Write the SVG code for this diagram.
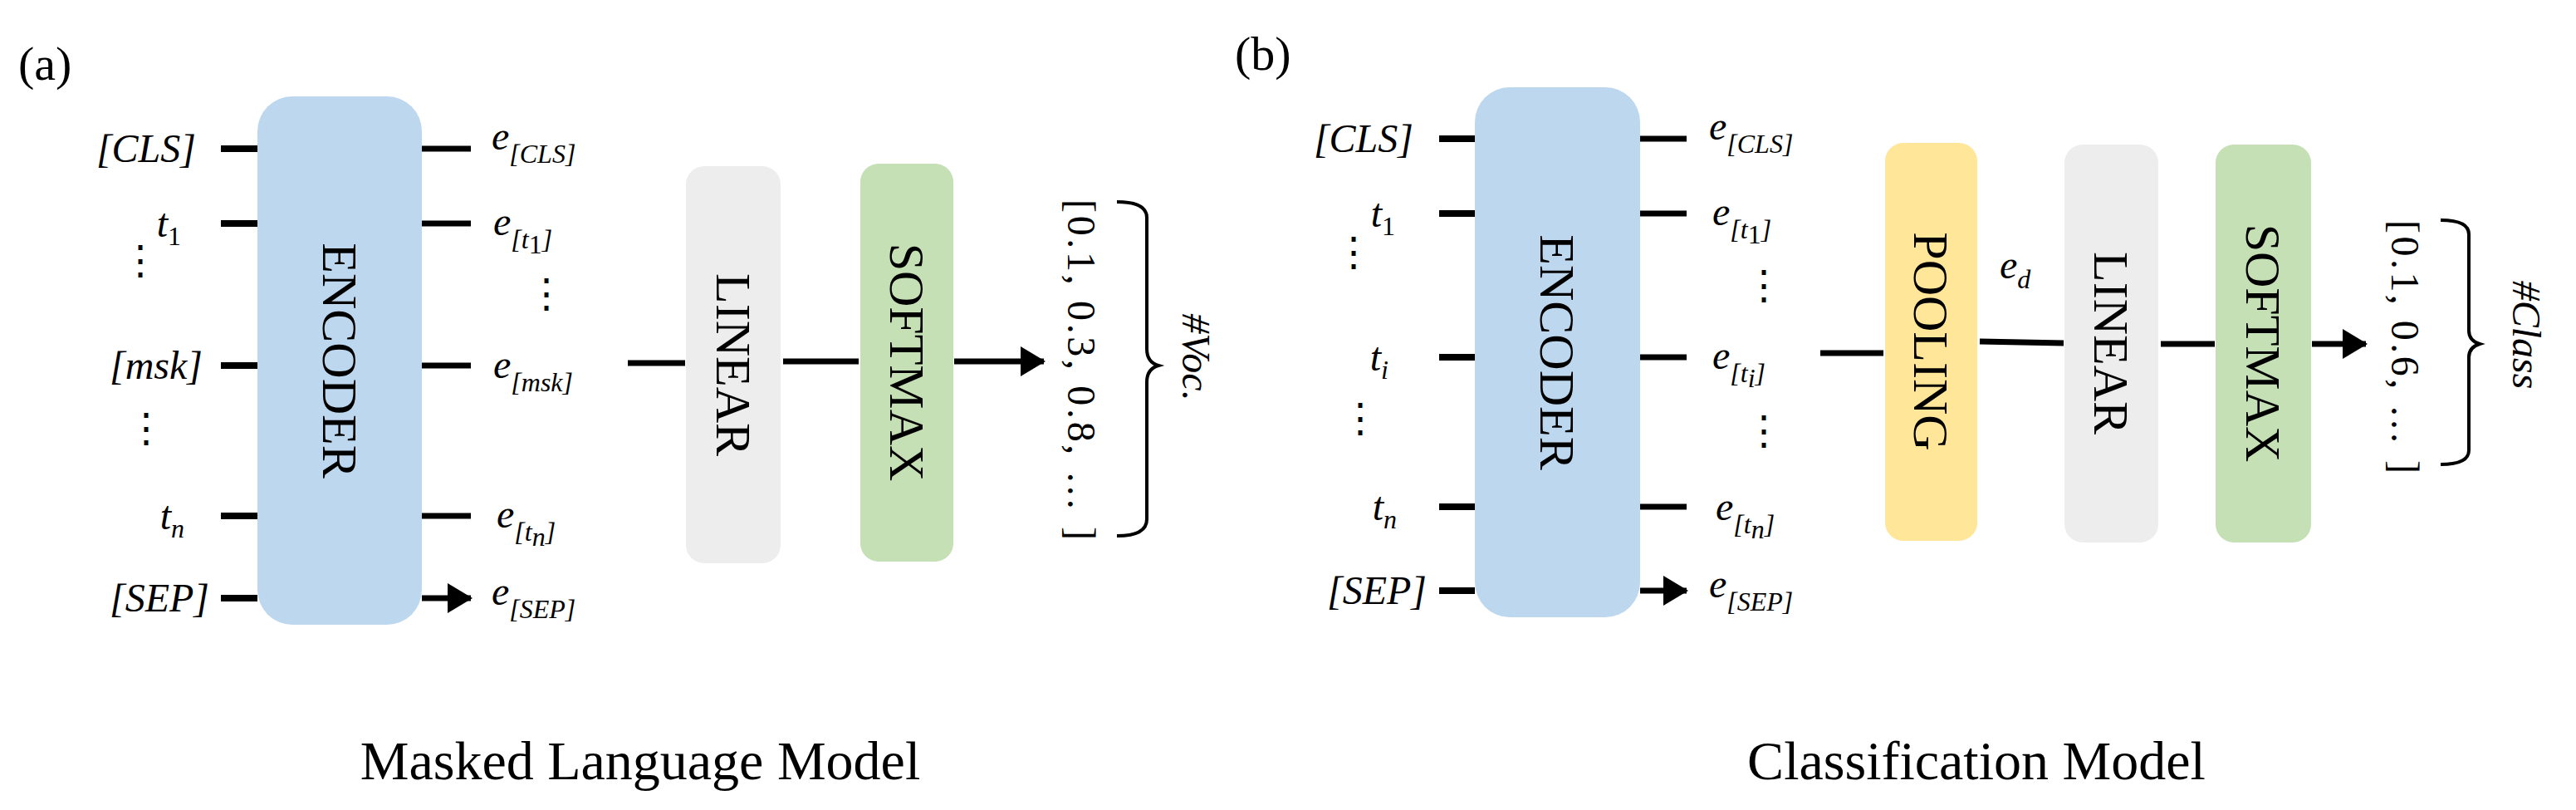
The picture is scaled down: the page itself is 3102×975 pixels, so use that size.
<svg xmlns="http://www.w3.org/2000/svg" width="3102" height="975" viewBox="0 0 3102 975">
<style>
.t{font-family:"Liberation Serif",serif;fill:#000}
.m{font-family:"Liberation Serif",serif;font-style:italic;fill:#000;font-size:48px}
.s{font-size:32px}
.box{font-family:"Liberation Serif",serif;font-size:60px;fill:#000}
.ln{stroke:#000;stroke-width:8;fill:none}
.ar{stroke:#000;stroke-width:7;fill:none;marker-end:url(#ah)}
.br{stroke:#000;stroke-width:4;fill:none}
</style>
<defs>
<marker id="ah" markerUnits="userSpaceOnUse" markerWidth="30" markerHeight="36" refX="28" refY="18" orient="auto"><path d="M0,0 L30,18 L0,36 Z" fill="#000"/></marker>
</defs>
<rect width="3102" height="975" fill="#fff"/>
<text class="t" x="22" y="96" font-size="58">(a)</text>
<text class="t" x="1487" y="84" font-size="58">(b)</text>
<text class="t" x="771" y="938" font-size="66" text-anchor="middle">Masked Language Model</text>
<text class="t" x="2380" y="938" font-size="66" text-anchor="middle">Classification Model</text>

<g id="encoder-a"><rect x="310" y="116" width="198" height="636" rx="42" fill="#bdd7ee"/><text class="box" transform="translate(409,434) rotate(90)" text-anchor="middle" dominant-baseline="central">ENCODER</text></g>
<g id="linear-a"><rect x="826" y="200" width="114" height="478" rx="22" fill="#ededed"/><text class="box" transform="translate(883,439) rotate(90)" text-anchor="middle" dominant-baseline="central">LINEAR</text></g>
<g id="softmax-a"><rect x="1036" y="197" width="112" height="479" rx="22" fill="#c5e0b4"/><text class="box" transform="translate(1092,436) rotate(90)" text-anchor="middle" dominant-baseline="central">SOFTMAX</text></g>

<g id="inputs-a" class="m" text-anchor="end">
<text x="236" y="195">[CLS]</text>
<text x="218" y="285">t<tspan class="s" dy="10" font-style="normal">1</tspan></text>
<text x="193" y="330" font-style="normal">⋮</text>
<text x="244" y="456">[msk]</text>
<text x="200" y="532" font-style="normal">⋮</text>
<text x="222" y="637">t<tspan class="s" dy="10">n</tspan></text>
<text x="252" y="736">[SEP]</text>
</g>
<g id="outputs-a" class="m">
<text x="592" y="180">e<tspan class="s" dy="16">[CLS]</tspan></text>
<text x="594" y="283">e<tspan class="s" dy="16">[t</tspan><tspan class="s" font-size="24" font-style="normal" dy="6">1</tspan><tspan class="s" dy="-6">]</tspan></text>
<text x="634" y="370" font-style="normal">⋮</text>
<text x="594" y="455">e<tspan class="s" dy="16">[msk]</tspan></text>
<text x="598" y="635">e<tspan class="s" dy="16">[t</tspan><tspan class="s" font-size="24" dy="6">n</tspan><tspan class="s" dy="-6">]</tspan></text>
<text x="592" y="728">e<tspan class="s" dy="16">[SEP]</tspan></text>
</g>
<g id="vector-a"><text class="t" font-size="48" transform="translate(1286,240) rotate(90)" textLength="410" lengthAdjust="spacing">[0.1, 0.3, 0.8, … ]</text></g>
<g id="label-voc"><text class="m" transform="translate(1424,430) rotate(90)" text-anchor="middle">#Voc.</text></g>

<g id="encoder-b"><rect x="1776" y="105" width="199" height="638" rx="42" fill="#bdd7ee"/><text class="box" transform="translate(1875,424) rotate(90)" text-anchor="middle" dominant-baseline="central">ENCODER</text></g>
<g id="pooling-b"><rect x="2270" y="172" width="111" height="479" rx="22" fill="#ffe699"/><text class="box" transform="translate(2325,411) rotate(90)" text-anchor="middle" dominant-baseline="central">POOLING</text></g>
<g id="linear-b"><rect x="2486" y="174" width="113" height="479" rx="22" fill="#ededed"/><text class="box" transform="translate(2542,413) rotate(90)" text-anchor="middle" dominant-baseline="central">LINEAR</text></g>
<g id="softmax-b"><rect x="2668" y="174" width="115" height="479" rx="22" fill="#c5e0b4"/><text class="box" transform="translate(2725,413) rotate(90)" text-anchor="middle" dominant-baseline="central">SOFTMAX</text></g>

<g id="inputs-b" class="m" text-anchor="end">
<text x="1702" y="183">[CLS]</text>
<text x="1680" y="273">t<tspan class="s" dy="10" font-style="normal">1</tspan></text>
<text x="1654" y="320" font-style="normal">⋮</text>
<text x="1672" y="446">t<tspan class="s" dy="10">i</tspan></text>
<text x="1662" y="520" font-style="normal">⋮</text>
<text x="1682" y="626">t<tspan class="s" dy="10">n</tspan></text>
<text x="1718" y="727">[SEP]</text>
</g>
<g id="outputs-b" class="m">
<text x="2058" y="168">e<tspan class="s" dy="16">[CLS]</tspan></text>
<text x="2062" y="271">e<tspan class="s" dy="16">[t</tspan><tspan class="s" font-size="24" font-style="normal" dy="6">1</tspan><tspan class="s" dy="-6">]</tspan></text>
<text x="2100" y="360" font-style="normal">⋮</text>
<text x="2062" y="444">e<tspan class="s" dy="16">[t</tspan><tspan class="s" font-size="24" dy="6">i</tspan><tspan class="s" dy="-6">]</tspan></text>
<text x="2100" y="535" font-style="normal">⋮</text>
<text x="2066" y="626">e<tspan class="s" dy="16">[t</tspan><tspan class="s" font-size="24" dy="6">n</tspan><tspan class="s" dy="-6">]</tspan></text>
<text x="2058" y="719">e<tspan class="s" dy="16">[SEP]</tspan></text>
<text x="2408" y="335">e<tspan class="s" dy="12">d</tspan></text>
</g>
<g id="vector-b"><text class="t" font-size="48" transform="translate(2880,265) rotate(90)" textLength="305" lengthAdjust="spacing">[0.1, 0.6, … ]</text></g>
<g id="label-class"><text class="m" transform="translate(3026,403) rotate(90)" text-anchor="middle">#Class</text></g>

<g id="connectors">
<path class="ln" d="M266,179H310M266,269H310M266,440H310M266,621H310M266,720H310"/>
<path class="ar" d="M508,179H567M508,269H567M508,440H567M508,621H567M508,720H567"/>
<path class="ar" d="M756,437H825M943,435H1034M1149,435H1257"/>
<path class="br" d="M1345,243 Q1381,243 1381,262 V420 Q1381,436 1395,440 Q1381,444 1381,460 V625 Q1381,645 1345,645"/>
<path class="ln" d="M1733,167H1776M1733,257H1776M1733,430H1776M1733,610H1776M1733,711H1776"/>
<path class="ar" d="M1975,167H2031M1975,257H2031M1975,430H2031M1975,610H2031M1975,711H2031"/>
<path class="ar" d="M2192,425H2268M2384,411L2485,413M2602,414H2667M2784,414H2849"/>
<path class="br" d="M2939,265 Q2973,265 2973,282 V398 Q2973,410 2986,414 Q2973,418 2973,430 V542 Q2973,559 2939,559"/>
</g>
</svg>
